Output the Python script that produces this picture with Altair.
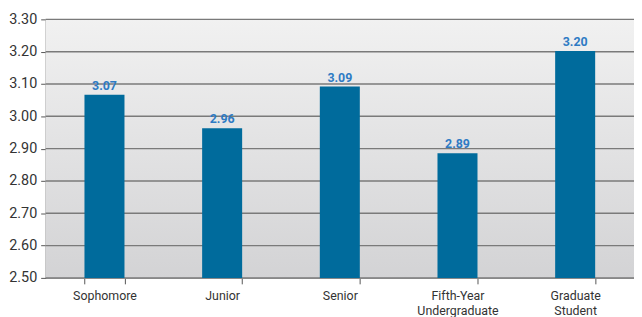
import altair as alt
import pandas as pd

categories = ["Sophomore", "Junior", "Senior", "Fifth-Year Undergraduate", "Graduate Student"]
values = [3.067, 2.963, 3.092, 2.886, 3.202]
labels = ["3.07", "2.96", "3.09", "2.89", "3.20"]
y_ticks = [2.5, 2.6, 2.7, 2.8, 2.9, 3.0, 3.1, 3.2, 3.3]
base_value = 2.5

W, H = 594, 261

df = pd.DataFrame({"cat": categories, "val": values, "lab": labels})
grid_df = pd.DataFrame({"t": y_ticks})

yscale = alt.Scale(domain=[2.5, 3.3], nice=False, zero=False)
xscale = alt.Scale(domain=categories, paddingInner=0.66, paddingOuter=0.33)

label_expr = ("datum.value == 'Fifth-Year Undergraduate' ? ['Fifth-Year','Undergraduate'] : "
              "datum.value == 'Graduate Student' ? ['Graduate','Student'] : datum.value")

yaxis = alt.Axis(values=y_ticks, format=".2f", grid=False, labelOverlap=False,
                 labelFont="Roboto", labelFontSize=14.5, labelColor="#333333",
                 tickSize=5, tickColor="#555555", domainColor="#555555",
                 labelPadding=4)
xaxis = alt.Axis(labelAngle=0, tickBand="extent", labelExpr=label_expr,
                 labelFont="Roboto", labelFontSize=12.5, labelColor="#333333",
                 labelPadding=6, tickSize=6, tickColor="#555555",
                 domainColor="#888888", labelLineHeight=15)

bg = alt.Chart(pd.DataFrame({"a": [0]})).mark_rect(
    fill=alt.Gradient(gradient="linear",
                      stops=[alt.GradientStop(color="#F1F1F1", offset=0),
                             alt.GradientStop(color="#D3D3D5", offset=1)],
                      x1=0, x2=0, y1=0, y2=1)
).encode(x=alt.value(0), x2=alt.value(W), y=alt.value(0), y2=alt.value(H))

grid = alt.Chart(grid_df).mark_rule(color="#7A7A7A", strokeWidth=1.4).encode(
    y=alt.Y("t:Q", scale=yscale, title=None, axis=yaxis),
    x=alt.value(0), x2=alt.value(W)
)

bars = alt.Chart(df).mark_bar(color="#006B9C").encode(
    x=alt.X("cat:N", scale=xscale, sort=categories, title=None, axis=xaxis),
    y=alt.Y("val:Q", scale=yscale, title=None, axis=yaxis),
    y2=alt.datum(base_value)
)

text = alt.Chart(df).mark_text(dy=-9, fontWeight="bold", font="Roboto", fontSize=12.5,
                               color="#2E7BC4").encode(
    x=alt.X("cat:N", scale=xscale, sort=categories, title=None, axis=xaxis),
    y=alt.Y("val:Q", scale=yscale, title=None, axis=yaxis),
    text="lab:N"
)

chart = alt.layer(bg, grid, bars, text).properties(
    width=W, height=H,
    autosize=alt.AutoSizeParams(type="none"),
    padding={"left": 38, "top": 10, "right": 0, "bottom": 38}
).configure_view(stroke=None).configure_axisY(labelOverlap=False)

chart.save("out.html", embed_options={"renderer": "svg", "actions": False})
